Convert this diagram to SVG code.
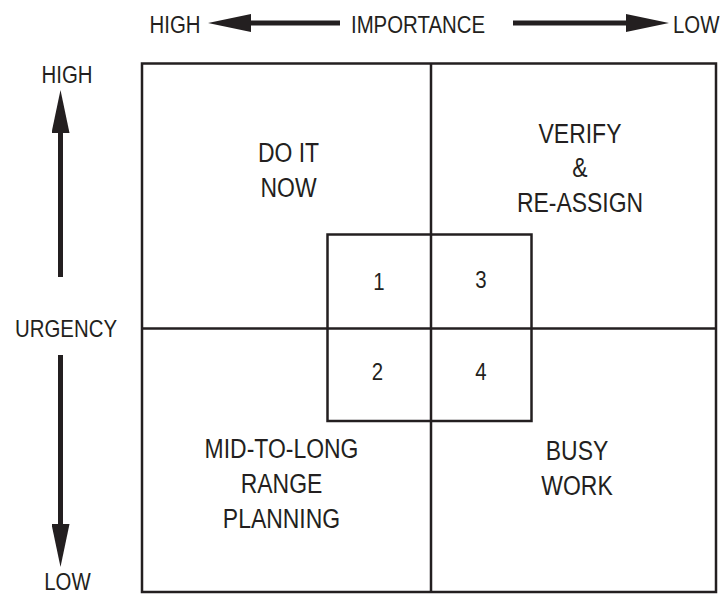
<svg xmlns="http://www.w3.org/2000/svg" width="722" height="595" viewBox="0 0 722 595">
  <style>
    text { font-family: "Liberation Sans", Arial, sans-serif; fill: #231f20; text-anchor: middle; }
    .axis { font-size: 24px; }
    .quad { font-size: 27px; }
    .num { font-size: 24px; }
    .frame { fill: none; stroke: #231f20; stroke-width: 2.5; }
    .shaft { stroke: #231f20; stroke-width: 5; fill: none; }
  </style>
  <defs>
    <marker id="head" markerUnits="userSpaceOnUse" markerWidth="43" markerHeight="18" refX="0" refY="9" orient="auto">
      <path d="M0,0 L43,9 L0,18 Z" fill="#231f20"/>
    </marker>
  </defs>

  <!-- importance and urgency axes -->
  <g id="connectors">
    <line class="shaft" x1="340" y1="23" x2="251" y2="23" marker-end="url(#head)"/>
    <line class="shaft" x1="513" y1="23" x2="626" y2="23" marker-end="url(#head)"/>
    <line class="shaft" x1="60.5" y1="277" x2="60.5" y2="133" marker-end="url(#head)"/>
    <line class="shaft" x1="60.5" y1="355" x2="60.5" y2="524" marker-end="url(#head)"/>
  </g>

  <g id="axis-labels">
    <text class="axis" transform="translate(175 33) scale(0.85 1)">HIGH</text>
    <text class="axis" transform="translate(418 33) scale(0.85 1)">IMPORTANCE</text>
    <text class="axis" transform="translate(673 33) scale(0.85 1)" style="text-anchor:start">LOW</text>
    <text class="axis" transform="translate(67 83) scale(0.85 1)">HIGH</text>
    <text class="axis" transform="translate(66 337) scale(0.85 1)">URGENCY</text>
    <text class="axis" transform="translate(67.5 589.5) scale(0.85 1)">LOW</text>
  </g>

  <!-- outer matrix -->
  <g id="matrix">
    <rect class="frame" x="142" y="63.5" width="574" height="528.5"/>
    <line class="frame" x1="431" y1="63.5" x2="431" y2="592"/>
    <line class="frame" x1="142" y1="328.5" x2="716" y2="328.5"/>
  </g>

  <g id="q-do-it-now">
    <text class="quad" transform="translate(288.5 162) scale(0.85 1)">DO IT</text>
    <text class="quad" transform="translate(288.5 197) scale(0.85 1)">NOW</text>
  </g>
  <g id="q-verify">
    <text class="quad" transform="translate(580 143) scale(0.85 1)">VERIFY</text>
    <text class="quad" transform="translate(580 177) scale(0.85 1)">&amp;</text>
    <text class="quad" transform="translate(580 212) scale(0.85 1)">RE-ASSIGN</text>
  </g>
  <g id="q-planning">
    <text class="quad" transform="translate(281.5 458) scale(0.85 1)">MID-TO-LONG</text>
    <text class="quad" transform="translate(281.5 493) scale(0.85 1)">RANGE</text>
    <text class="quad" transform="translate(281.5 528) scale(0.85 1)">PLANNING</text>
  </g>
  <g id="q-busy-work">
    <text class="quad" transform="translate(577 460) scale(0.85 1)">BUSY</text>
    <text class="quad" transform="translate(577 495) scale(0.85 1)">WORK</text>
  </g>

  <!-- central priority cells -->
  <g id="inner-box">
    <rect class="frame" x="327.5" y="234.5" width="204" height="186.5"/>
  </g>
  <g id="cell-1"><text class="num" transform="translate(379 290) scale(0.85 1)">1</text></g>
  <g id="cell-3"><text class="num" transform="translate(481 288) scale(0.85 1)">3</text></g>
  <g id="cell-2"><text class="num" transform="translate(377.5 380) scale(0.85 1)">2</text></g>
  <g id="cell-4"><text class="num" transform="translate(481 380) scale(0.85 1)">4</text></g>
</svg>
